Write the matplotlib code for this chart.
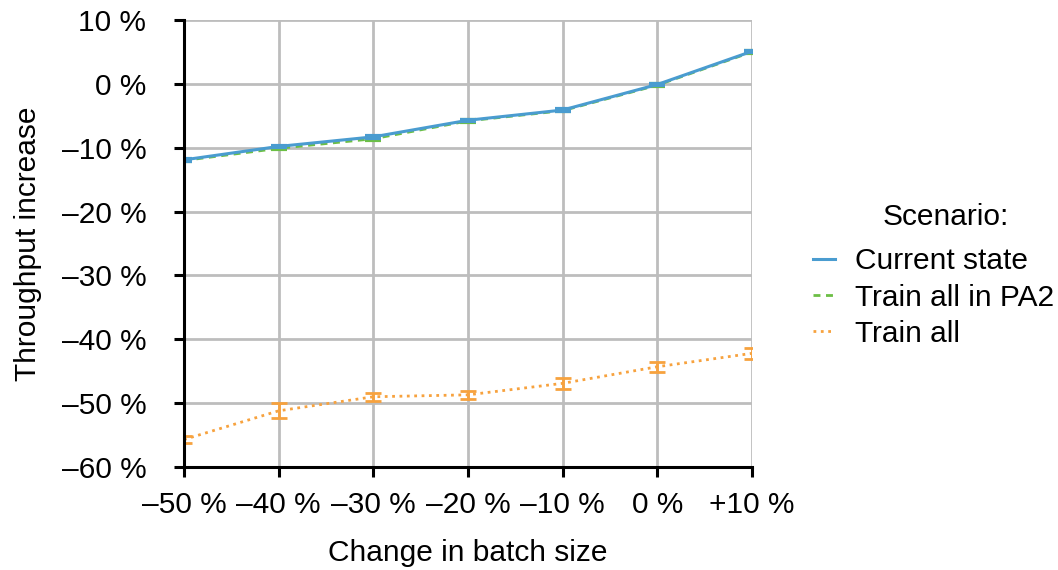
import matplotlib
matplotlib.use("Agg")
import matplotlib.pyplot as plt
from matplotlib.ticker import FixedLocator
from matplotlib.lines import Line2D

plt.rcParams['font.family'] = ['Liberation Sans', 'DejaVu Sans']

x_vals = [-50, -40, -30, -20, -10, 0, 10]
x_labels = ['\u201350 %', '\u201340 %', '\u201330 %', '\u201320 %', '\u201310 %', '0 %', '+10 %']
y_ticks = [10, 0, -10, -20, -30, -40, -50, -60]
y_labels = ['10 %', '0 %', '\u201310 %', '\u201320 %', '\u201330 %', '\u201340 %', '\u201350 %', '\u201360 %']

current = [-11.9, -9.8, -8.3, -5.7, -4.1, -0.1, 5.1]
current_err = [0.15, 0.1, 0.15, 0.1, 0.1, 0.15, 0.1]
pa2 = [-12.0, -10.1, -8.6, -5.8, -4.2, -0.2, 5.0]
pa2_err = [0.1, 0.1, 0.15, 0.1, 0.1, 0.1, 0.1]
train_all = [-55.7, -51.2, -49.0, -48.7, -46.9, -44.3, -42.2]
train_all_err = [0.5, 1.2, 0.65, 0.65, 0.9, 0.8, 0.9]

c_blue = '#4A9CD0'
c_green = '#6CBF45'
c_orange = '#F7A23E'

FS = 21.5

fig = plt.figure(figsize=(10.58, 5.70), dpi=100)
ax = fig.add_axes([184/1058, 1-467/570, (752-184)/1058, (467-20)/570])

ax.errorbar(x_vals, train_all, yerr=train_all_err, color=c_orange, ls=':', lw=2,
            capsize=5.5, capthick=2, elinewidth=2, label='Train all', zorder=3)
ax.errorbar(x_vals, pa2, yerr=pa2_err, color=c_green, ls='--', lw=2, dashes=(2.5, 2),
            capsize=5.5, capthick=3, elinewidth=2, label='Train all in PA2', zorder=4)
ax.errorbar(x_vals, current, yerr=current_err, color=c_blue, ls='-', lw=2.2,
            capsize=5.5, capthick=3, elinewidth=2, label='Current state', zorder=5)

ax.set_xlim(-50, 10)
ax.set_ylim(-60, 10)
ax.xaxis.set_major_locator(FixedLocator(x_vals))
ax.set_xticklabels(x_labels)
ax.yaxis.set_major_locator(FixedLocator(y_ticks))
ax.set_yticklabels(y_labels)

ax.grid(True, color='#BDBDBD', lw=2, zorder=0)
ax.set_axisbelow(True)
for s in ['top', 'right']:
    ax.spines[s].set_visible(False)
for s in ['left', 'bottom']:
    ax.spines[s].set_linewidth(2.2)
    ax.spines[s].set_color('black')
    ax.spines[s].set_zorder(6)
ax.tick_params(axis='both', direction='out', length=7, width=2.2, labelsize=FS, colors='black')
ax.tick_params(axis='y', pad=20)
ax.tick_params(axis='x', pad=10)

ax.set_xlabel('Change in batch size', fontsize=FS, labelpad=15)
ax.set_ylabel('Throughput increase', fontsize=FS, labelpad=14)

hs = [Line2D([], [], color=c_blue, ls='-', lw=2.2),
      Line2D([], [], color=c_green, ls='--', lw=2, dashes=(2.5, 2)),
      Line2D([], [], color=c_orange, ls=':', lw=2)]
leg = fig.legend(hs, ['Current state', 'Train all in PA2', 'Train all'],
                 loc='center left', bbox_to_anchor=(813/1058, 1-297.5/570),
                 frameon=False, fontsize=FS, handlelength=0.75,
                 handletextpad=0.67, labelspacing=0.28, borderaxespad=0, borderpad=0)
fig.text(946/1058, 1-217/570, 'Scenario:', fontsize=FS, ha='center', va='center')

fig.savefig('out.png', dpi=100)
